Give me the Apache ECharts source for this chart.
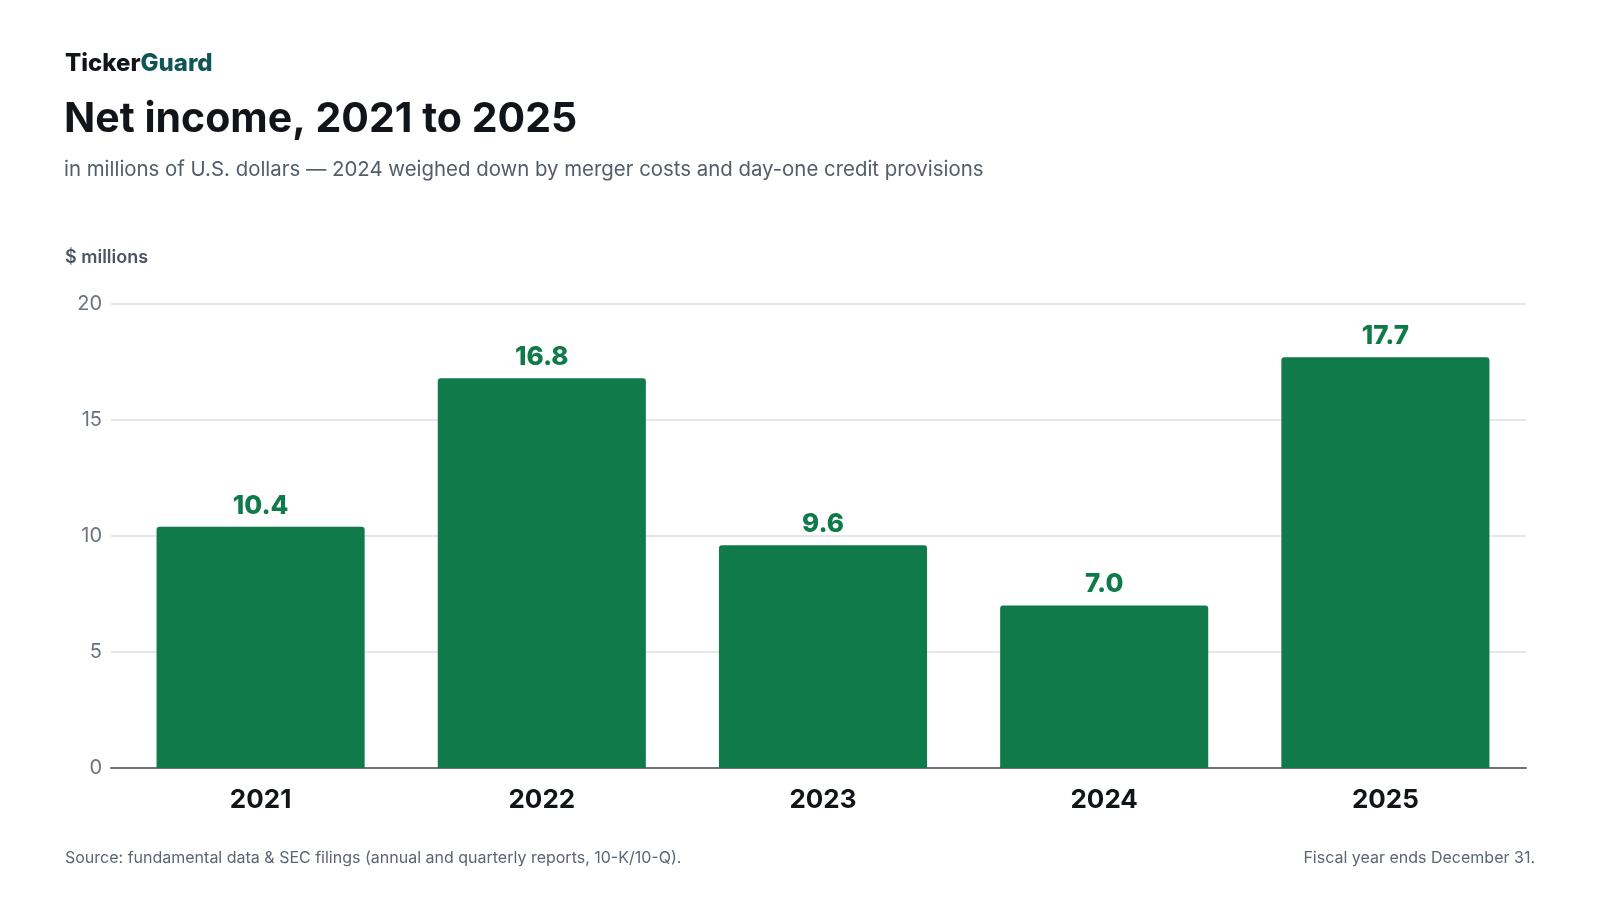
<!DOCTYPE html>
<html>
<head>
<meta charset="utf-8">
<script src="https://cdn.jsdelivr.net/npm/echarts@6/dist/echarts.min.js"></script>
<style>
  html, body { margin: 0; padding: 0; background: #ffffff; }
  #chart { width: 1600px; height: 900px; }
</style>
</head>
<body>
<div id="chart"></div>
<script>
const years = ['2021', '2022', '2023', '2024', '2025'];
const netIncome = [10.4, 16.8, 9.6, 7.0, 17.7];
const yTicks = [0, 5, 10, 15, 20];

const FONT = 'Inter, "Noto Sans", sans-serif';
const chart = echarts.init(document.getElementById('chart'), null, { renderer: 'canvas' });

chart.setOption({
  backgroundColor: '#ffffff',
  animation: false,
  title: [
    {
      text: '{a|Ticker}{b|Guard}',
      left: 65, top: 52, padding: 0,
      textStyle: {
        rich: {
          a: { fontFamily: FONT, fontSize: 24, fontWeight: 800, color: '#111418' },
          b: { fontFamily: FONT, fontSize: 24, fontWeight: 800, color: '#0f5558' }
        }
      }
    },
    {
      text: 'Net income, 2021 to 2025',
      left: 64, top: 99, padding: 0,
      textStyle: { fontFamily: FONT, fontSize: 41, fontWeight: 'bold', color: '#111418' }
    },
    {
      text: 'in millions of U.S. dollars — 2024 weighed down by merger costs and day-one credit provisions',
      left: 64, top: 160, padding: 0,
      textStyle: { fontFamily: FONT, fontSize: 20.4, fontWeight: 'normal', color: '#535d6a' }
    },
    {
      text: '$ millions',
      left: 65, top: 249, padding: 0,
      textStyle: { fontFamily: FONT, fontSize: 18, fontWeight: 600, color: '#4b5563' }
    },
    {
      text: 'Source: fundamental data & SEC filings (annual and quarterly reports, 10-K/10-Q).',
      left: 65, top: 850, padding: 0,
      textStyle: { fontFamily: FONT, fontSize: 16, fontWeight: 'normal', color: '#5b6573' }
    },
    {
      text: 'Fiscal year ends December 31.',
      right: 65, top: 850, padding: 0,
      textStyle: { fontFamily: FONT, fontSize: 16, fontWeight: 'normal', color: '#5b6573' }
    }
  ],
  grid: [
    { left: 111, right: 74, top: 304, bottom: 132 },
    { left: 120, right: 74, top: 304, bottom: 132 }
  ],
  xAxis: [
    {
      gridIndex: 0, type: 'category', data: years,
      axisLine: { show: true, lineStyle: { color: '#6b7380', width: 2 } },
      axisTick: { show: false },
      axisLabel: { show: false },
      splitLine: { show: false }
    },
    {
      gridIndex: 1, type: 'category', data: years,
      axisLine: { show: false },
      axisTick: { show: false },
      axisLabel: {
        show: true, margin: 19,
        fontFamily: FONT, fontSize: 26, fontWeight: 'bold', color: '#111418'
      },
      splitLine: { show: false }
    }
  ],
  yAxis: [
    {
      gridIndex: 0, type: 'value', min: 0, max: 20, interval: 5,
      axisLine: { show: false },
      axisTick: { show: false },
      axisLabel: {
        margin: 9, fontFamily: FONT, fontSize: 20, color: '#6b7380',
        formatter: function (v) { return yTicks.indexOf(v) >= 0 ? String(v) : ''; }
      },
      splitLine: { show: true, lineStyle: { color: '#e6e7ea', width: 2 } }
    },
    {
      gridIndex: 1, type: 'value', min: 0, max: 20, interval: 5,
      show: false,
      splitLine: { show: false }
    }
  ],
  series: [
    {
      type: 'bar',
      xAxisIndex: 1, yAxisIndex: 1,
      data: netIncome,
      barWidth: '74%',
      itemStyle: { color: '#117a4b', borderRadius: [3, 3, 0, 0] },
      label: {
        show: true, position: 'top', distance: 8,
        fontFamily: FONT, fontSize: 26, fontWeight: 800, color: '#117a4b',
        formatter: function (p) { return p.value.toFixed(1); }
      }
    }
  ]
});
</script>
</body>
</html>
